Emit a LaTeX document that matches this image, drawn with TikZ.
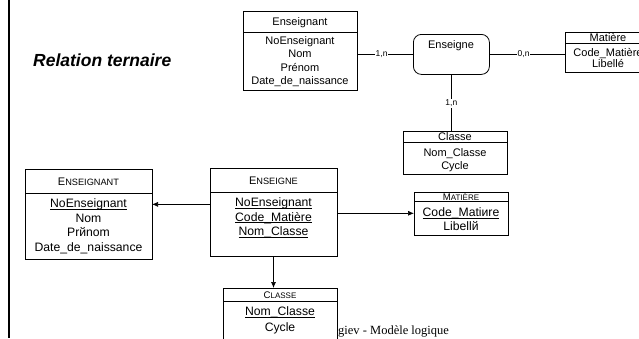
\documentclass[tikz,border=0pt]{standalone}
\usepackage{fontspec}
\setmainfont{Liberation Sans}
\newfontfamily\footserif{Liberation Serif}
\usetikzlibrary{arrows.meta}
% fake small capitals: first letter full size, the rest smaller
\newcommand\fakesc[2]{{\fontsize{11}{12}\selectfont #1}{\fontsize{9.2}{10}\selectfont #2}}
\newcommand\fakescsmall[2]{{\fontsize{9.6}{10}\selectfont #1}{\fontsize{8}{9}\selectfont #2}}
% key attribute: thin rule just under the baseline
\newcommand\keyattr[1]{\setbox0\hbox{#1}\rlap{\rule[-1.9pt]{\wd0}{0.6pt}}\box0}

\begin{document}
\begin{tikzpicture}[x=1pt,y=-1pt,
  box/.style={draw, line width=0.8pt, fill=white, anchor=north west,
              inner sep=0pt, outer sep=0pt},
  lbl/.style={inner sep=0pt, anchor=base, font=\fontsize{11}{12}\selectfont},
  lblb/.style={inner sep=0pt, anchor=base, font=\fontsize{12.2}{13}\selectfont},
  card/.style={inner sep=0.8pt, fill=white, font=\fontsize{8.5}{9}\selectfont},
  link/.style={line width=0.7pt},
  fk/.style={line width=0.7pt, -{Latex[length=6pt,width=5pt]}}]

\useasboundingbox (0,0) rectangle (639,338);
\clip (0,0) rectangle (639,338);

% margin rule
\fill (7.5,0) rectangle (10,338);

\node[anchor=base west, inner sep=0pt,
      font=\bfseries\itshape\fontsize{17.5}{21}\selectfont] (title) at (33,66) {Relation ternaire};

% ---------- conceptual model ----------
\node[box, minimum width=114pt, minimum height=79pt] (ens) at (243,11) {};
\draw ([yshift=-21pt]ens.north west) -- ([yshift=-21pt]ens.north east);
\node[lbl] (ens-t) at (300,25.7) {Enseignant};
\node[lbl] (ens-a) at (300,44.7) {NoEnseignant};
\node[lbl] (ens-b) at (300,57.5) {Nom};
\node[lbl] (ens-c) at (300,71.5) {Prénom};
\node[lbl] (ens-d) at (300,84) {Date\_de\_naissance};

\node[draw, line width=0.8pt, rounded corners=8pt, anchor=north west, inner sep=0pt,
      minimum width=76pt, minimum height=40pt] (rel) at (413,34) {};
\node[lbl] (rel-t) at (451,48) {Enseigne};

\node[box, minimum width=86pt, minimum height=40pt] (mat) at (565,32) {};
\draw ([yshift=-11pt]mat.north west) -- ([yshift=-11pt]mat.north east);
\node[lbl] (mat-t) at (608,41) {Matière};
\node[lbl] (mat-a) at (608,56) {Code\_Matière};
\node[lbl] (mat-b) at (608,67.5) {Libellé};

\node[box, minimum width=104pt, minimum height=43pt] (cls) at (403,131) {};
\draw ([yshift=-11pt]cls.north west) -- ([yshift=-11pt]cls.north east);
\node[lbl] (cls-t) at (455,140.5) {Classe};
\node[lbl] (cls-a) at (455,156.5) {Nom\_Classe};
\node[lbl] (cls-b) at (455,169.5) {Cycle};

\draw[link] (ens.east |- rel.west) -- node[card, pos=0.44] {1,n} (rel.west);
\draw[link] (rel.east) -- node[card, pos=0.45] {0,n} (mat.west |- rel.east);
\draw[link] (rel.south) -- node[card, pos=0.51] {1,n} (rel.south |- cls.north);

% ---------- logical model ----------
\node[box, minimum width=127pt, minimum height=90pt] (tens) at (25,169) {};
\draw ([yshift=-24pt]tens.north west) -- ([yshift=-24pt]tens.north east);
\node[lbl] (tens-t) at (88.5,185) {\fakesc{E}{NSEIGNANT}};
\node[lblb] (tens-a) at (88.5,207.5) {\keyattr{NoEnseignant}};
\node[lblb] (tens-b) at (88.5,222.3) {Nom};
\node[lblb] (tens-c) at (88.5,236.5) {Prйnom};
\node[lblb] (tens-d) at (88.5,251.3) {Date\_de\_naissance};

\node[box, minimum width=127pt, minimum height=88pt] (tenn) at (210,168) {};
\draw ([yshift=-24pt]tenn.north west) -- ([yshift=-24pt]tenn.north east);
\node[lbl] (tenn-t) at (273.5,184.5) {\fakesc{E}{NSEIGNE}};
\node[lblb] (tenn-a) at (273.5,206.3) {\keyattr{NoEnseignant}};
\node[lblb] (tenn-b) at (273.5,221) {\keyattr{Code\_Matière}};
\node[lblb] (tenn-c) at (273.5,235.3) {\keyattr{Nom\_Classe}};

\node[box, minimum width=94pt, minimum height=43pt] (tmat) at (414,192) {};
\draw ([yshift=-9pt]tmat.north west) -- ([yshift=-9pt]tmat.north east);
\node[lbl] (tmat-t) at (461,200) {\fakescsmall{M}{ATIÈRE}};
\node[lblb] (tmat-a) at (461,216.5) {\keyattr{Code\_Matiиre}};
\node[lblb] (tmat-b) at (461,230.5) {Libellй};

\node[anchor=base west, inner sep=0pt, font=\footserif\fontsize{12.5}{14}\selectfont]
  (foot) at (338,334.5) {giev - Modèle logique};

\node[box, minimum width=114pt, minimum height=60pt] (tcls) at (223,288) {};
\draw ([yshift=-13pt]tcls.north west) -- ([yshift=-13pt]tcls.north east);
\node[lbl] (tcls-t) at (280,298.8) {\fakescsmall{C}{LASSE}};
\node[lblb] (tcls-a) at (280,315.5) {\keyattr{Nom\_Classe}};
\node[lblb] (tcls-b) at (280,331) {Cycle};

\draw[fk] (tenn.west |- tens-a) -- (tens.east |- tens-a);
\draw[fk] (tenn.east |- tmat-a) -- (tmat.west |- tmat-a);
\draw[fk] (tenn.south) -- (tenn.south |- tcls.north);
\end{tikzpicture}
\end{document}
